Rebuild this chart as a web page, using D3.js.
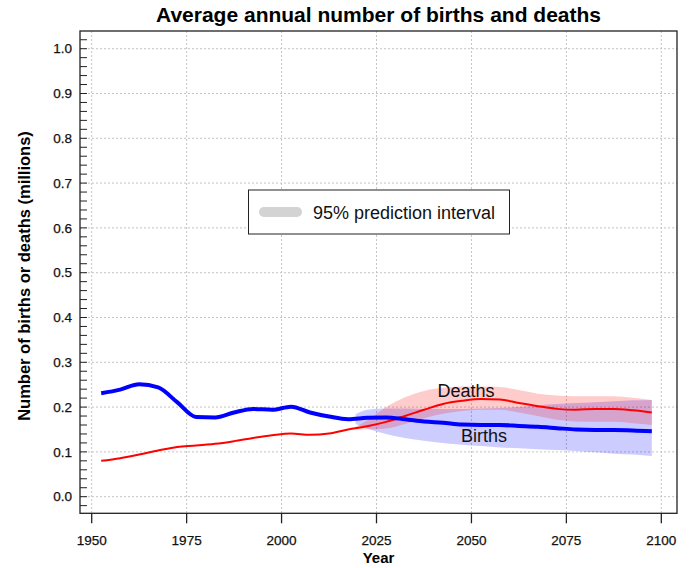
<!DOCTYPE html>
<html>
<head>
<meta charset="utf-8">
<script src="https://cdn.jsdelivr.net/npm/d3@7"></script>
<style>
  html, body { margin: 0; padding: 0; background: #fff; }
  svg { display: block; font-family: "Liberation Sans", Arial, Helvetica, sans-serif; }
</style>
</head>
<body>
<svg id="chart" width="696" height="568"></svg>
<script>
// ---- data ----
const years = [1952.5,1957.5,1962.5,1967.5,1972.5,1977.5,1982.5,1987.5,1992.5,1997.5,2002.5,2007.5,2012.5,2017.5,2022.5,2027.5,2032.5,2037.5,2042.5,2047.5,2052.5,2057.5,2062.5,2067.5,2072.5,2077.5,2082.5,2087.5,2092.5,2097.5];
const births = [0.231,0.239,0.251,0.244,0.211,0.178,0.177,0.188,0.196,0.194,0.201,0.188,0.179,0.173,0.176,0.177,0.173,0.168,0.165,0.161,0.160,0.160,0.158,0.156,0.153,0.150,0.149,0.149,0.148,0.146];
const deaths = [0.080,0.086,0.094,0.103,0.111,0.114,0.118,0.124,0.131,0.137,0.141,0.138,0.141,0.150,0.157,0.167,0.180,0.194,0.207,0.214,0.218,0.217,0.209,0.202,0.196,0.194,0.196,0.196,0.193,0.188];

const bandYears = [2019.5,2022.5,2027.5,2032.5,2037.5,2042.5,2047.5,2052.5,2057.5,2062.5,2067.5,2072.5,2077.5,2082.5,2087.5,2092.5,2097.5];
const birthsLower = [0.162,0.152,0.140,0.131,0.125,0.120,0.116,0.113,0.110,0.108,0.106,0.104,0.102,0.099,0.096,0.094,0.091];
const birthsUpper = [0.184,0.194,0.197,0.197,0.196,0.196,0.196,0.197,0.198,0.200,0.204,0.207,0.209,0.211,0.213,0.215,0.216];
const deathsLower = [0.150,0.150,0.152,0.162,0.175,0.185,0.191,0.194,0.194,0.188,0.180,0.172,0.168,0.167,0.167,0.164,0.160];
const deathsUpper = [0.156,0.170,0.200,0.222,0.236,0.243,0.246,0.246,0.245,0.238,0.230,0.226,0.224,0.224,0.224,0.221,0.216];

const xTicks = [1950,1975,2000,2025,2050,2075,2100];
const yTicks = [0.0,0.1,0.2,0.3,0.4,0.5,0.6,0.7,0.8,0.9,1.0];
const yMinorTicks = d3.range(-0.02, 1.04, 0.02);

const titleText = "Average annual number of births and deaths";
const xTitle = "Year";
const yTitle = "Number of births or deaths (millions)";
const legendText = "95% prediction interval";

// ---- layout ----
const svg = d3.select("#chart");
const L = 80, R = 677, T = 31, B = 513.3;
const x = d3.scaleLinear().domain([1946.92, 2104.13]).range([L, R]);
const y = d3.scaleLinear().domain([-0.0371, 1.0395]).range([B, T]);

// grid
const grid = svg.append("g").attr("stroke", "#c4c4c4").attr("stroke-width", 1).attr("stroke-dasharray", "2,2");
grid.selectAll(".gx").data(xTicks).join("line")
  .attr("x1", d => x(d)).attr("x2", d => x(d)).attr("y1", T).attr("y2", B);
grid.selectAll(".gy").data(yTicks).join("line")
  .attr("x1", L).attr("x2", R).attr("y1", d => y(d)).attr("y2", d => y(d));

// bands
const bi = bandYears.map((d, i) => i);
const areaB = d3.area().x(i => x(bandYears[i])).y0(i => y(birthsLower[i])).y1(i => y(birthsUpper[i])).curve(d3.curveMonotoneX);
const areaD = d3.area().x(i => x(bandYears[i])).y0(i => y(deathsLower[i])).y1(i => y(deathsUpper[i])).curve(d3.curveMonotoneX);
svg.append("path").attr("d", areaB(bi)).attr("fill", "rgba(0,0,255,0.2)");
svg.append("path").attr("d", areaD(bi)).attr("fill", "rgba(255,0,0,0.2)");

// lines
const idx = years.map((d, i) => i);
const lineB = d3.line().x(i => x(years[i])).y(i => y(births[i])).curve(d3.curveMonotoneX);
const lineD = d3.line().x(i => x(years[i])).y(i => y(deaths[i])).curve(d3.curveMonotoneX);
svg.append("path").attr("d", lineD(idx)).attr("fill", "none").attr("stroke", "#ff0000").attr("stroke-width", 2);
svg.append("path").attr("d", lineB(idx)).attr("fill", "none").attr("stroke", "#0000ff").attr("stroke-width", 4).attr("stroke-linejoin", "round");

// series labels
svg.append("text").attr("x", 466).attr("y", 397).attr("text-anchor", "middle")
  .attr("font-size", 18).attr("fill", "#111").text("Deaths");
svg.append("text").attr("x", 484).attr("y", 442).attr("text-anchor", "middle")
  .attr("font-size", 18).attr("fill", "#111").text("Births");

// frame
svg.append("rect").attr("x", L).attr("y", T).attr("width", R - L).attr("height", B - T)
  .attr("fill", "none").attr("stroke", "#222").attr("stroke-width", 1.3);

// y ticks (inward)
svg.append("g").selectAll("line").data(yMinorTicks).join("line")
  .attr("x1", L).attr("x2", L + 7).attr("y1", d => y(d)).attr("y2", d => y(d))
  .attr("stroke", "#222").attr("stroke-width", 1);
svg.append("g").selectAll("text").data(yTicks).join("text")
  .attr("x", L - 8).attr("y", d => y(d)).attr("dy", "0.35em").attr("text-anchor", "end")
  .attr("font-size", 13.5).attr("fill", "#111").attr("stroke", "#111").attr("stroke-width", 0.25)
  .text(d => d3.format(".1f")(d));

// x ticks (outward)
svg.append("g").selectAll("line").data(xTicks).join("line")
  .attr("x1", d => x(d)).attr("x2", d => x(d)).attr("y1", B).attr("y2", B + 10)
  .attr("stroke", "#222").attr("stroke-width", 1.3);
svg.append("g").selectAll("text").data(xTicks).join("text")
  .attr("x", d => x(d)).attr("y", 545).attr("text-anchor", "middle")
  .attr("font-size", 13.5).attr("fill", "#111").attr("stroke", "#111").attr("stroke-width", 0.25)
  .text(d => d);

// titles
svg.append("text").attr("x", (L + R) / 2).attr("y", 22).attr("text-anchor", "middle")
  .attr("font-size", 21).attr("font-weight", "bold").attr("fill", "#000").text(titleText);
svg.append("text").attr("x", (L + R) / 2).attr("y", 563).attr("text-anchor", "middle")
  .attr("font-size", 15).attr("font-weight", "bold").attr("fill", "#000").text(xTitle);
svg.append("text").attr("transform", "translate(30,276) rotate(-90)").attr("text-anchor", "middle")
  .attr("font-size", 16.5).attr("font-weight", "bold").attr("fill", "#000").text(yTitle);

// legend
const lg = svg.append("g");
lg.append("rect").attr("x", 248.5).attr("y", 190).attr("width", 261).attr("height", 44)
  .attr("fill", "#fff").attr("stroke", "#222").attr("stroke-width", 1);
lg.append("line").attr("x1", 264).attr("x2", 297).attr("y1", 212).attr("y2", 212)
  .attr("stroke", "#d3d3d3").attr("stroke-width", 10).attr("stroke-linecap", "round");
lg.append("text").attr("x", 313).attr("y", 218.5).attr("font-size", 18).attr("fill", "#111").text(legendText);
</script>
</body>
</html>
